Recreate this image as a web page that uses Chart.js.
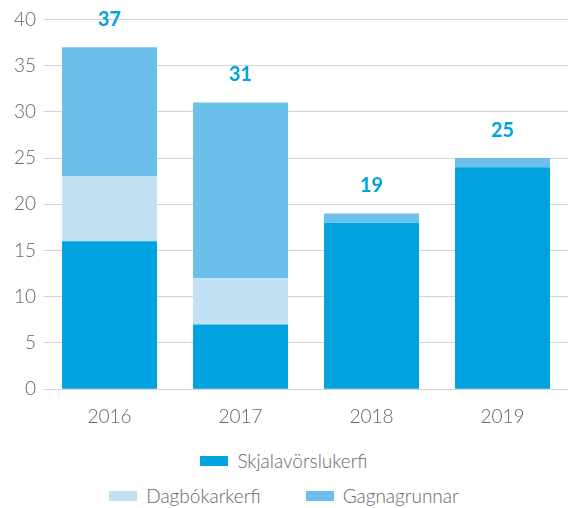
<!DOCTYPE html>
<html>
<head>
<meta charset="utf-8">
<script src="https://cdn.jsdelivr.net/npm/chart.js@4"></script>
<style>
  html, body { margin: 0; padding: 0; background: #fff; }
  #wrap { width: 568px; height: 440px; position: relative; }
  #legend { width: 568px; padding-top: 3px; font-family: Lato, sans-serif; font-weight: 300; font-size: 19px; color: #666; }
  .row { display: flex; justify-content: center; gap: 45px; height: 35px; align-items: center; }
  .item { display: flex; align-items: center; }
  .box { width: 28px; height: 10px; margin-right: 9px; }
</style>
</head>
<body>
<div id="wrap"><canvas id="chart"></canvas></div>
<div id="legend"></div>
<script>
// categories and series
const years = ['2016', '2017', '2018', '2019'];
const skjalavorslukerfi = [16, 7, 18, 24];
const dagbokarkerfi = [7, 5, 0, 0];
const gagnagrunnar = [14, 19, 1, 1];
const totals = [37, 31, 19, 25];

const seriesNames = ['Skjalavörslukerfi', 'Dagbókarkerfi', 'Gagnagrunnar'];
const colors = ['#00a3e0', '#c3e1f5', '#6bc0eb'];

// totals drawn above each bar
const totalLabels = {
    id: 'totalLabels',
    afterDatasetsDraw(chart) {
        const ctx = chart.ctx;
        const x = chart.scales.x, y = chart.scales.y;
        ctx.save();
        ctx.font = 'bold 20px Lato, sans-serif';
        ctx.fillStyle = '#00a3e0';
        ctx.textAlign = 'center';
        ctx.textBaseline = 'middle';
        totals.forEach((t, i) => {
            ctx.fillText(String(t), x.getPixelForValue(i), y.getPixelForValue(t) - 28);
        });
        ctx.restore();
    }
};

const ctx = document.getElementById('chart').getContext('2d');
const chart = new Chart(ctx, {
    type: 'bar',
    data: {
        labels: years,
        datasets: [
            { label: seriesNames[0], data: skjalavorslukerfi, backgroundColor: colors[0] },
            { label: seriesNames[1], data: dagbokarkerfi, backgroundColor: colors[1] },
            { label: seriesNames[2], data: gagnagrunnar, backgroundColor: colors[2] }
        ]
    },
    options: {
        responsive: true,
        maintainAspectRatio: false,
        animation: false,
        layout: { padding: { top: 13, left: 6, right: 0, bottom: 4 } },
        datasets: { bar: { barPercentage: 0.725, categoryPercentage: 1 } },
        scales: {
            x: {
                stacked: true,
                grid: { display: false },
                border: { display: false },
                ticks: { color: '#666', font: { family: 'Lato', size: 19, weight: 300 }, padding: 8 }
            },
            y: {
                stacked: true,
                min: 0,
                max: 40,
                grid: { color: '#d4d4d4', lineWidth: 1, drawTicks: false },
                border: { display: false },
                ticks: { stepSize: 5, color: '#666', font: { family: 'Lato', size: 19, weight: 300 }, padding: 8 }
            }
        },
        plugins: {
            legend: { display: false },
            tooltip: { enabled: false }
        }
    },
    plugins: [totalLabels]
});

// legend laid out in two rows like the original
const legendRows = [[0], [1, 2]];
const legendEl = document.getElementById('legend');
legendRows.forEach(row => {
    const r = document.createElement('div');
    r.className = 'row';
    row.forEach(i => {
        const it = document.createElement('div');
        it.className = 'item';
        it.innerHTML = '<span class="box" style="background:' + colors[i] + '"></span>' + seriesNames[i];
        r.appendChild(it);
    });
    legendEl.appendChild(r);
});
</script>
</body>
</html>
